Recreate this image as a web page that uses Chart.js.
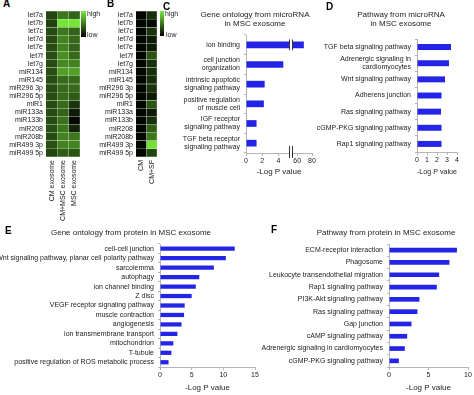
<!DOCTYPE html>
<html>
<head>
<meta charset="utf-8">
<script src="https://cdn.jsdelivr.net/npm/chart.js@4"></script>
<style>
  body { margin: 0; background: #fff; }
  #page { position: relative; width: 474px; height: 395px; overflow: hidden; font-family: "Liberation Sans", Arial, sans-serif; color: #222; }
  #page canvas { position: absolute; }
  .txt { position: absolute; white-space: nowrap; }
  .letter { font-weight: bold; font-size: 10px; line-height: 10px; color: #000; }
  .title { font-size: 8px; line-height: 9px; text-align: center; transform: translateX(-50%); }
  .small { font-size: 7px; line-height: 8px; }
  .scale { position: absolute; background: linear-gradient(to bottom, rgb(120,236,58), #000); }
</style>
</head>
<body>
<div id="page">
  <canvas id="heatA"></canvas>
  <canvas id="heatB"></canvas>
  <canvas id="goMirnaLow"></canvas>
  <canvas id="goMirnaHigh"></canvas>
  <canvas id="pathMirna"></canvas>
  <canvas id="goProtein"></canvas>
  <canvas id="pathProtein"></canvas>

  <div class="txt letter" style="left:3px;top:-1px">A</div>
  <div class="txt letter" style="left:107px;top:-1px">B</div>
  <div class="txt letter" style="left:163px;top:2px">C</div>
  <div class="txt letter" style="left:326px;top:2px">D</div>
  <div class="txt letter" style="left:5px;top:226px">E</div>
  <div class="txt letter" style="left:271px;top:225px">F</div>

  <div class="scale" style="left:81px;top:11px;width:5px;height:26px"></div>
  <div class="txt small" style="left:87px;top:10px">high</div>
  <div class="txt small" style="left:87px;top:31px">low</div>
  <div class="scale" style="left:160px;top:11px;width:4px;height:25px"></div>
  <div class="txt small" style="left:165px;top:10px">high</div>
  <div class="txt small" style="left:166px;top:31px">low</div>

  <div class="txt title" style="left:255px;top:10px">Gene ontology from microRNA<br>in MSC exosome</div>
  <div class="txt title" style="left:401px;top:10px">Pathway from microRNA<br>in MSC exosome</div>
  <div class="txt title" style="left:131px;top:228px">Gene ontology from protein in MSC exosome</div>
  <div class="txt title" style="left:386px;top:228px">Pathway from protein in MSC exosome</div>
  <div class="txt title" style="left:279px;top:167px">-Log P value</div>
</div>

<script>
// heatmaps (0 = low / black, 1 = high / bright green)
var mirnaRows = ["let7a", "let7b", "let7c", "let7d", "let7e", "let7f", "let7g", "miR134", "miR145",
  "miR296 3p", "miR296 5p", "miR1", "miR133a", "miR133b", "miR208", "miR208b", "miR499 3p", "miR499 5p"];
var heatColsA = ["CM exosome", "CM+MSC exosome", "MSC exosome"];
var heatA_cm     = [0.30, 0.28, 0.32, 0.32, 0.32, 0.32, 0.32, 0.34, 0.32, 0.32, 0.32, 0.32, 0.32, 0.32, 0.34, 0.32, 0.34, 0.30];
var heatA_cmMsc  = [0.50, 0.97, 0.50, 0.55, 0.55, 0.60, 0.58, 0.68, 0.45, 0.45, 0.45, 0.45, 0.42, 0.48, 0.50, 0.55, 0.55, 0.40];
var heatA_msc    = [0.42, 0.97, 0.42, 0.45, 0.42, 0.45, 0.55, 0.68, 0.45, 0.45, 0.38, 0.22, 0.12, 0.03, 0.15, 0.50, 0.55, 0.35];
var heatColsB = ["CM", "CM+SF"];
var heatB_cm     = [0.03, 0.03, 0.03, 0.03, 0.03, 0.03, 0.03, 0.03, 0.03, 0.03, 0.03, 0.03, 0.03, 0.03, 0.03, 0.03, 0.03, 0.03];
var heatB_cmSf   = [0.20, 0.05, 0.22, 0.12, 0.12, 0.35, 0.20, 0.20, 0.20, 0.22, 0.12, 0.35, 0.12, 0.20, 0.40, 0.50, 0.95, 0.30];

// C: gene ontology from microRNA (broken axis)
var goMirnaLabels = [["ion binding"], ["cell junction", "organization"], ["intrinsic apoptotic", "signaling pathway"],
  ["positive regulation", "of muscle cell"], ["IGF receptor", "signaling pathway"], ["TGF beta receptor", "signaling pathway"]];
var goMirnaValues = [69, 4.6, 2.3, 2.2, 1.3, 1.3];
var goMirnaTicksLow = [0, 2, 4];
var goMirnaTicksHigh = [60, 80];

// D: pathway from microRNA
var pathMirnaLabels = ["TGF beta signaling pathway", ["Adrenergic signaling in", "cardiomyocytes"], "Wnt signaling pathway",
  "Adherens junction", "Ras signaling pathway", "cGMP-PKG signaling pathway", "Rap1 signaling pathway"];
var pathMirnaValues = [3.4, 3.2, 2.8, 2.45, 2.4, 2.45, 2.45];
var pathMirnaTicks = [0, 1, 2, 3, 4];

// E: gene ontology from protein
var goProteinLabels = ["cell-cell junction", "Wnt signaling pathway, planar cell polarity pathway", "sarcolemma", "autophagy",
  "ion channel binding", "Z disc", "VEGF receptor signaling pathway", "muscle contraction", "angiogenesis",
  "ion transmembrane transport", "mitochondrion", "T-tubule", "positive regulation of ROS metabolic process"];
var goProteinValues = [11.8, 10.4, 8.5, 6.2, 5.65, 5.0, 3.9, 3.8, 3.4, 2.75, 2.1, 1.8, 1.35];
var goProteinTicks = [0, 5, 10, 15];

// F: pathway from protein
var pathProteinLabels = ["ECM-receptor interaction", "Phagosome", "Leukocyte transendothelial migration", "Rap1 signaling pathway",
  "PI3K-Akt signaling pathway", "Ras signaling pathway", "Gap junction", "cAMP signaling pathway",
  "Adrenergic signaling in cardiomyocytes", "cGMP-PKG signaling pathway"];
var pathProteinValues = [8.6, 7.65, 6.35, 6.05, 3.85, 3.6, 2.85, 2.3, 2.0, 1.25];
var pathProteinTicks = [0, 5, 10];

var BLUE = "#2424e6";
var AXIS = "#b5b5b5";

Chart.defaults.font.family = '"Liberation Sans", Arial, sans-serif';
Chart.defaults.font.size = 7;
Chart.defaults.color = "#222";
Chart.defaults.animation = false;
Chart.defaults.plugins.legend.display = false;
Chart.defaults.plugins.tooltip.enabled = false;

function greenScale(t) {
  return "rgb(" + Math.round(120 * t) + "," + Math.round(236 * t) + "," + Math.round(58 * t) + ")";
}

// size and place a canvas so that its plot area lands on the given box
function frame(id, r) {
  var el = document.getElementById(id);
  var w = r.padL + r.yW + (r.x1 - r.x0) + r.padR;
  var h = r.padT + (r.y1 - r.y0) + r.xH;
  el.width = w; el.height = h;
  el.style.width = w + "px"; el.style.height = h + "px";
  el.style.left = (r.x0 - r.yW - r.padL) + "px";
  el.style.top = (r.y0 - r.padT) + "px";
  return el;
}
function fitY(w) { return function(s) { s.width = w; s.paddingTop = 0; s.paddingBottom = 0; }; }
function fitX(h) { return function(s) { s.height = h; s.paddingLeft = 0; s.paddingRight = 0; }; }
function setTicks(list) { return function(s) { s.ticks = list.map(function(v) { return { value: v }; }); }; }

function heat(id, r, cols, columns) {
  var el = frame(id, r);
  return new Chart(el, {
    type: "bar",
    data: {
      labels: mirnaRows,
      datasets: columns.map(function(vals) {
        return {
          data: vals.map(function() { return 1; }),
          backgroundColor: vals.map(greenScale),
          borderColor: "rgba(170,220,140,0.22)", borderWidth: 0.5,
          barPercentage: 1, categoryPercentage: 1
        };
      })
    },
    options: {
      indexAxis: "y", responsive: false,
      layout: { padding: { top: r.padT, right: r.padR, left: r.padL, bottom: 0 } },
      scales: {
        y: { stacked: true, grid: { display: false, drawTicks: false }, border: { display: false },
             ticks: { padding: 3, autoSkip: false }, afterFit: fitY(r.yW) },
        x: { stacked: true, min: 0, max: cols.length, grid: { display: false, drawTicks: false }, border: { display: false },
             afterBuildTicks: setTicks(cols.map(function(c, i) { return i + 0.5; })),
             ticks: { minRotation: 90, maxRotation: 90, padding: 3, autoSkip: false,
                      callback: function(v, i) { return cols[i]; } },
             afterFit: fitX(r.xH) }
      }
    }
  });
}

function hbar(id, r, labels, values, o) {
  var el = frame(id, r);
  return new Chart(el, {
    type: "bar",
    data: { labels: labels, datasets: [{ data: values, backgroundColor: BLUE, barPercentage: o.bar, categoryPercentage: 1 }] },
    options: {
      indexAxis: "y", responsive: false,
      layout: { padding: { top: r.padT, right: r.padR, left: r.padL, bottom: 0 } },
      scales: {
        y: { display: !o.hideY,
             grid: { drawOnChartArea: false, tickLength: 2, color: AXIS }, border: { color: AXIS },
             ticks: { padding: 4, autoSkip: false, font: { lineHeight: 1.15 } }, afterFit: fitY(r.yW) },
        x: { min: o.min, max: o.max,
             grid: { drawOnChartArea: false, tickLength: 3, color: AXIS }, border: { color: AXIS },
             afterBuildTicks: setTicks(o.ticks),
             ticks: { padding: 1, maxRotation: 0 },
             title: o.title ? { display: true, text: o.title, font: { size: 8 }, padding: { top: 2, bottom: 0 } } : { display: false },
             afterFit: fitX(r.xH) }
      }
    },
    plugins: o.plugins || []
  });
}

// double line marking the axis break of panel C
function breakMarks(side) {
  return {
    id: "breakMarks",
    afterDatasetsDraw: function(chart) {
      var ctx = chart.ctx, area = chart.chartArea;
      var bar = chart.getDatasetMeta(0).data[0];
      var x = Math.round(side === "right" ? area.right : area.left) + 0.5;
      ctx.save();
      ctx.strokeStyle = "#333"; ctx.lineWidth = 1;
      ctx.beginPath();
      ctx.moveTo(x, bar.y - bar.height / 2 - 2); ctx.lineTo(x, bar.y + bar.height / 2 + 2);
      ctx.moveTo(x, area.bottom - 7); ctx.lineTo(x, area.bottom + 5);
      ctx.stroke();
      ctx.restore();
    }
  };
}

heat("heatA", { x0: 46, x1: 80, y0: 11, y1: 157, yW: 46, xH: 75, padT: 2, padR: 0, padL: 0 },
  heatColsA, [heatA_cm, heatA_cmMsc, heatA_msc]);
heat("heatB", { x0: 136, x1: 157, y0: 11, y1: 157, yW: 40, xH: 40, padT: 2, padR: 0, padL: 0 },
  heatColsB, [heatB_cm, heatB_cmSf]);

hbar("goMirnaLow", { x0: 246, x1: 289, y0: 35, y1: 153, yW: 80, xH: 14, padT: 3, padR: 2, padL: 0 },
  goMirnaLabels, goMirnaValues, { bar: 0.34, min: 0, max: 5.3, ticks: goMirnaTicksLow, plugins: [breakMarks("right")] });
hbar("goMirnaHigh", { x0: 292, x1: 312, y0: 35, y1: 153, yW: 0, xH: 14, padT: 3, padR: 6, padL: 3 },
  goMirnaLabels, goMirnaValues.map(function(v) { return v > 53 ? v : null; }),
  { bar: 0.34, min: 53, max: 80, ticks: goMirnaTicksHigh, hideY: true, plugins: [breakMarks("left")] });

hbar("pathMirna", { x0: 417, x1: 457, y0: 39, y1: 152, yW: 110, xH: 25, padT: 3, padR: 6, padL: 0 },
  pathMirnaLabels, pathMirnaValues, { bar: 0.37, min: 0, max: 4, ticks: pathMirnaTicks, title: "-Log P value" });

hbar("goProtein", { x0: 160, x1: 255, y0: 244, y1: 367, yW: 160, xH: 26, padT: 3, padR: 6, padL: 0 },
  goProteinLabels, goProteinValues, { bar: 0.45, min: 0, max: 15, ticks: goProteinTicks, title: "-Log P value" });

hbar("pathProtein", { x0: 389, x1: 468, y0: 244, y1: 367, yW: 130, xH: 26, padT: 3, padR: 6, padL: 0 },
  pathProteinLabels, pathProteinValues, { bar: 0.38, min: 0, max: 10, ticks: pathProteinTicks, title: "-Log P value" });
</script>
</body>
</html>
